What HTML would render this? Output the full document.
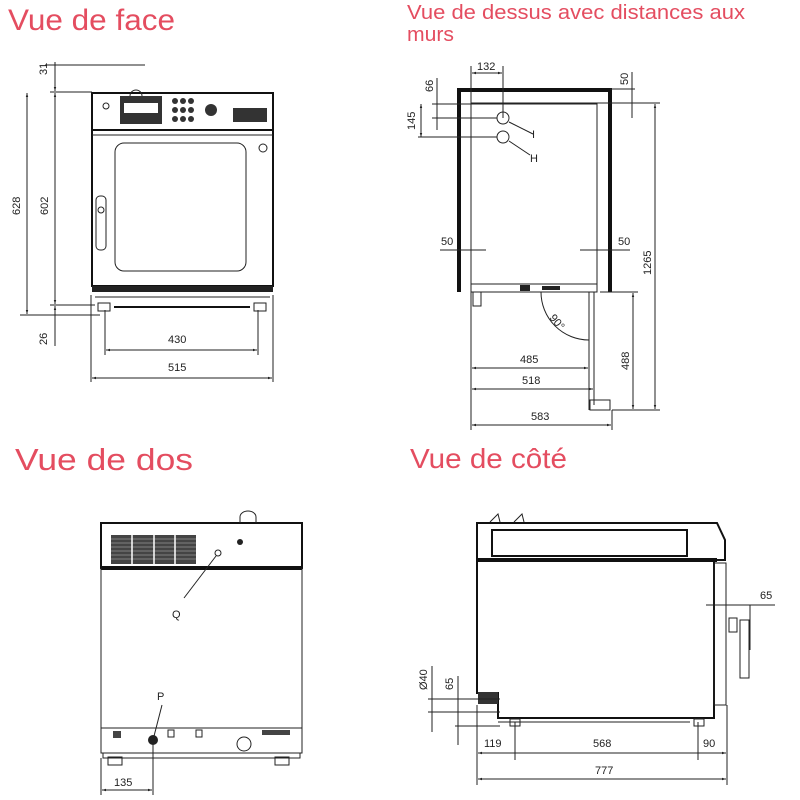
<!DOCTYPE html>
<html><head><meta charset="utf-8"><style>
html,body{margin:0;padding:0;background:#fff;width:800px;height:800px;overflow:hidden}
svg{display:block}
.t{font-family:"Liberation Sans Narrow","Liberation Sans",sans-serif;fill:#e44d60}
.d{font-family:"Liberation Sans",sans-serif;font-size:11px;fill:#222}
.l{stroke:#222;fill:none;stroke-width:1}
.k{stroke:#111;fill:none;stroke-width:2}
.th{stroke:#111;fill:none;stroke-width:4}
</style></head><body>
<svg width="800" height="800" viewBox="0 0 800 800" xmlns="http://www.w3.org/2000/svg">
<defs><marker id="a" viewBox="0 0 10 10" refX="10" refY="5" markerWidth="6" markerHeight="4" orient="auto-start-reverse"><path d="M0,2 L10,5 L0,8z" fill="#222"/></marker></defs>
<text class="t" x="8" y="30" font-size="30" textLength="167" lengthAdjust="spacingAndGlyphs">Vue de face</text>
<text class="t" x="407" y="19" font-size="20" textLength="338" lengthAdjust="spacingAndGlyphs">Vue de dessus avec distances aux</text>
<text class="t" x="407" y="41" font-size="20" textLength="47" lengthAdjust="spacingAndGlyphs">murs</text>
<text class="t" x="15" y="470" font-size="31" textLength="178" lengthAdjust="spacingAndGlyphs">Vue de dos</text>
<text class="t" x="410" y="468" font-size="28" textLength="157" lengthAdjust="spacingAndGlyphs">Vue de côté</text>

<!-- FRONT VIEW -->
<rect class="k" x="92" y="93" width="181" height="193"/>
<line class="k" x1="92" y1="130" x2="273" y2="130"/>
<line class="l" x1="92" y1="135" x2="273" y2="135"/>
<rect x="115" y="143" width="131" height="128" rx="9" class="l" stroke-width="1.5"/>
<rect x="96" y="196" width="10" height="54" rx="4" class="l" stroke-width="1.5"/>
<circle cx="101" cy="210" r="3" class="l"/>
<circle cx="263" cy="148" r="4" class="l" stroke-width="2"/>
<circle cx="106" cy="106" r="3" class="l"/>
<rect x="120" y="96" width="42" height="28" fill="#333"/>
<rect x="124" y="103" width="34" height="10" fill="#fff"/>
<path d="M130,96 a5,5 0 0 1 12,0" class="l" stroke-width="2"/>
<g fill="#333"><circle cx="175" cy="101" r="3"/><circle cx="183" cy="101" r="3"/><circle cx="191" cy="101" r="3"/><circle cx="175" cy="110" r="3"/><circle cx="183" cy="110" r="3"/><circle cx="191" cy="110" r="3"/><circle cx="175" cy="119" r="3"/><circle cx="183" cy="119" r="3"/><circle cx="191" cy="119" r="3"/></g>
<circle cx="211" cy="110" r="6" fill="#333"/>
<rect x="233" y="108" width="34" height="14" fill="#333"/>
<rect x="92" y="286" width="181" height="6" fill="#222"/>
<line class="l" x1="95" y1="297" x2="270" y2="297"/>
<rect x="98" y="303" width="12" height="8" class="l"/><rect x="254" y="303" width="12" height="8" class="l"/>
<line class="k" x1="114" y1="307" x2="250" y2="307"/>
<line class="l" x1="50" y1="92" x2="92" y2="92"/><line class="l" x1="45" y1="65" x2="145" y2="65"/>
<line class="l" x1="20" y1="315" x2="100" y2="315"/><line class="l" x1="50" y1="305" x2="95" y2="305"/>
<line class="l" x1="27" y1="93" x2="27" y2="314" marker-start="url(#a)" marker-end="url(#a)"/>
<line class="l" x1="55" y1="93" x2="55" y2="304" marker-start="url(#a)" marker-end="url(#a)"/>
<line class="l" x1="55" y1="62" x2="55" y2="91" marker-end="url(#a)"/>
<line class="l" x1="55" y1="306" x2="55" y2="346" marker-start="url(#a)"/>
<text class="d" transform="translate(47,75) rotate(-90)">31</text>
<text class="d" transform="translate(20,215) rotate(-90)">628</text>
<text class="d" transform="translate(48,215) rotate(-90)">602</text>
<text class="d" transform="translate(47,345) rotate(-90)">26</text>
<line class="l" x1="105" y1="310" x2="105" y2="355"/><line class="l" x1="258" y1="310" x2="258" y2="355"/>
<line class="l" x1="91" y1="295" x2="91" y2="382"/><line class="l" x1="273" y1="295" x2="273" y2="382"/>
<line class="l" x1="106" y1="350" x2="257" y2="350" marker-start="url(#a)" marker-end="url(#a)"/>
<line class="l" x1="92" y1="378" x2="272" y2="378" marker-start="url(#a)" marker-end="url(#a)"/>
<text class="d" x="168" y="343">430</text><text class="d" x="168" y="371">515</text>

<!-- TOP VIEW -->
<path class="th" d="M459,292 V90 H610 V292"/>
<path class="l" d="M471,292 V104 H597 V292" stroke-width="1.3"/>
<line class="l" x1="471" y1="103" x2="597" y2="103"/>
<rect x="471" y="284" width="126" height="8" class="l" stroke-width="1.3"/>
<rect x="520" y="285" width="10" height="6" fill="#222"/><rect x="542" y="286" width="18" height="4" fill="#222"/>
<rect x="473" y="292" width="8" height="14" class="l"/>
<circle cx="503" cy="118" r="6" class="l" stroke-width="2.5"/><circle cx="503" cy="137" r="6" class="l" stroke-width="2.5"/>
<line class="l" x1="509" y1="122" x2="533" y2="134" stroke-width="1.5"/><line class="l" x1="509" y1="141" x2="530" y2="155" stroke-width="1.5"/>
<text class="d" x="532" y="138" font-size="13" fill="#223">I</text><text class="d" x="530" y="162" font-size="13">H</text>
<line class="l" x1="589" y1="292" x2="589" y2="410"/><line class="l" x1="594" y1="292" x2="594" y2="405"/>
<rect x="590" y="400" width="20" height="10" class="l"/>
<path class="l" d="M541,292 A48,48 0 0 0 589,340"/>
<text class="d" transform="translate(549,318) rotate(50)" font-size="10">90°</text>
<line class="l" x1="471" y1="66" x2="471" y2="104"/><line class="l" x1="503" y1="66" x2="503" y2="118"/>
<line class="l" x1="472" y1="73" x2="502" y2="73" marker-start="url(#a)" marker-end="url(#a)"/><text class="d" x="477" y="70">132</text>
<line class="l" x1="432" y1="104" x2="471" y2="104"/><line class="l" x1="432" y1="118" x2="497" y2="118"/><line class="l" x1="418" y1="137" x2="497" y2="137"/>
<line class="l" x1="437" y1="78" x2="437" y2="130"/><text class="d" transform="translate(433,92) rotate(-90)" font-size="10">66</text>
<line class="l" x1="421" y1="104" x2="421" y2="137" marker-start="url(#a)" marker-end="url(#a)"/><text class="d" transform="translate(415,130) rotate(-90)" font-size="10">145</text>
<line class="l" x1="610" y1="89" x2="635" y2="89"/><line class="l" x1="597" y1="103" x2="660" y2="103"/>
<line class="l" x1="632" y1="72" x2="632" y2="118"/><text class="d" transform="translate(628,85) rotate(-90)" font-size="10">50</text>
<line class="l" x1="655" y1="104" x2="655" y2="409" marker-start="url(#a)" marker-end="url(#a)"/><text class="d" transform="translate(651,275) rotate(-90)">1265</text>
<line class="l" x1="612" y1="410" x2="660" y2="410"/><line class="l" x1="600" y1="292" x2="638" y2="292"/>
<line class="l" x1="633" y1="293" x2="633" y2="409" marker-start="url(#a)" marker-end="url(#a)"/><text class="d" transform="translate(629,370) rotate(-90)">488</text>
<line class="l" x1="440" y1="250" x2="486" y2="250"/><text class="d" x="441" y="245">50</text>
<line class="l" x1="580" y1="250" x2="630" y2="250"/><text class="d" x="618" y="245">50</text>
<line class="l" x1="471" y1="292" x2="471" y2="430"/><line class="l" x1="612" y1="410" x2="612" y2="430"/>
<line class="l" x1="472" y1="368" x2="588" y2="368" marker-start="url(#a)" marker-end="url(#a)"/><text class="d" x="520" y="363">485</text>
<line class="l" x1="472" y1="389" x2="593" y2="389" marker-start="url(#a)" marker-end="url(#a)"/><text class="d" x="522" y="384">518</text>
<line class="l" x1="472" y1="425" x2="611" y2="425" marker-start="url(#a)" marker-end="url(#a)"/><text class="d" x="531" y="420">583</text>

<!-- BACK VIEW -->
<rect class="k" x="101" y="523" width="201" height="45"/>
<line class="th" x1="101" y1="568" x2="302" y2="568" stroke-width="2.5"/>
<rect x="111" y="535" width="85" height="29" fill="#444"/>
<g stroke="#bbb" stroke-width="0.6"><line x1="111" y1="539" x2="196" y2="539"/><line x1="111" y1="543" x2="196" y2="543"/><line x1="111" y1="547" x2="196" y2="547"/><line x1="111" y1="551" x2="196" y2="551"/><line x1="111" y1="555" x2="196" y2="555"/><line x1="111" y1="559" x2="196" y2="559"/></g>
<g stroke="#fff" stroke-width="1.5"><line x1="132" y1="535" x2="132" y2="564"/><line x1="154" y1="535" x2="154" y2="564"/><line x1="175" y1="535" x2="175" y2="564"/></g>
<path class="l" d="M240,523 v-6 a8,6 0 0 1 16,0 v6" stroke-width="1.5"/>
<circle cx="240" cy="542" r="3" fill="#222"/><circle cx="218" cy="553" r="3" class="l"/>
<line class="l" x1="216" y1="556" x2="184" y2="598"/><text class="d" x="172" y="618" font-size="16">Q</text>
<path class="l" d="M101,568 V728 H302 V568"/>
<rect class="l" x="101" y="728" width="201" height="25"/>
<rect class="l" x="103" y="753" width="197" height="5"/>
<rect class="l" x="108" y="757" width="14" height="8"/><rect class="l" x="275" y="757" width="14" height="8"/>
<circle cx="153" cy="740" r="5" fill="#222"/><circle cx="244" cy="744" r="7" class="l" stroke-width="2"/>
<rect class="l" x="168" y="730" width="6" height="7"/><rect class="l" x="196" y="730" width="6" height="7"/>
<rect x="113" y="731" width="8" height="7" fill="#444"/><rect x="262" y="730" width="28" height="5" fill="#444"/>
<line class="l" x1="162" y1="705" x2="153" y2="740"/><text class="d" x="157" y="700" font-size="16">P</text>
<line class="l" x1="101" y1="758" x2="101" y2="795"/><line class="l" x1="153" y1="740" x2="153" y2="795"/>
<line class="l" x1="102" y1="790" x2="152" y2="790" marker-start="url(#a)" marker-end="url(#a)"/><text class="d" x="114" y="786">135</text>

<!-- SIDE VIEW -->
<path class="k" d="M477,523 H717 L725,540 V560 H477 Z" stroke-width="1.5"/>
<rect class="k" x="492" y="530" width="195" height="26"/>
<line class="th" x1="477" y1="560" x2="717" y2="560" stroke-width="3"/>
<path class="l" d="M490,522 l8,-8 l2,8 M514,522 l8,-8 l2,8"/>
<path class="k" d="M477,561 V693 H498 V718 H714 V561" stroke-width="1.5"/>
<rect class="l" x="714" y="563" width="12" height="142" stroke-width="1.5"/>
<rect class="l" x="729" y="618" width="8" height="14"/><rect class="l" x="740" y="620" width="9" height="58" stroke-width="2"/>
<rect x="478" y="692" width="20" height="12" fill="#333"/>
<line class="l" x1="498" y1="722" x2="690" y2="722"/>
<rect class="l" x="510" y="719" width="10" height="7"/><rect class="l" x="694" y="719" width="10" height="7"/>
<line class="l" x1="706" y1="605" x2="775" y2="605"/><line class="l" x1="750" y1="605" x2="750" y2="650"/><text class="d" x="760" y="599">65</text>
<line class="l" x1="432" y1="666" x2="432" y2="732"/><text class="d" transform="translate(427,690) rotate(-90)">Ø40</text>
<line class="l" x1="458" y1="676" x2="458" y2="745"/><text class="d" transform="translate(453,690) rotate(-90)" font-size="10">65</text>
<line class="l" x1="428" y1="699" x2="500" y2="699"/><line class="l" x1="428" y1="712" x2="500" y2="712"/><line class="l" x1="455" y1="726" x2="500" y2="726"/>
<line class="l" x1="477" y1="705" x2="477" y2="785"/><line class="l" x1="727" y1="705" x2="727" y2="785"/>
<line class="l" x1="515" y1="722" x2="515" y2="760"/><line class="l" x1="698" y1="722" x2="698" y2="760"/>
<line class="l" x1="478" y1="753" x2="726" y2="753" marker-start="url(#a)" marker-end="url(#a)"/>
<text class="d" x="484" y="747">119</text><text class="d" x="593" y="747">568</text><text class="d" x="703" y="747">90</text>
<line class="l" x1="478" y1="779" x2="726" y2="779" marker-start="url(#a)" marker-end="url(#a)"/><text class="d" x="595" y="774">777</text>
</svg>
</body></html>
